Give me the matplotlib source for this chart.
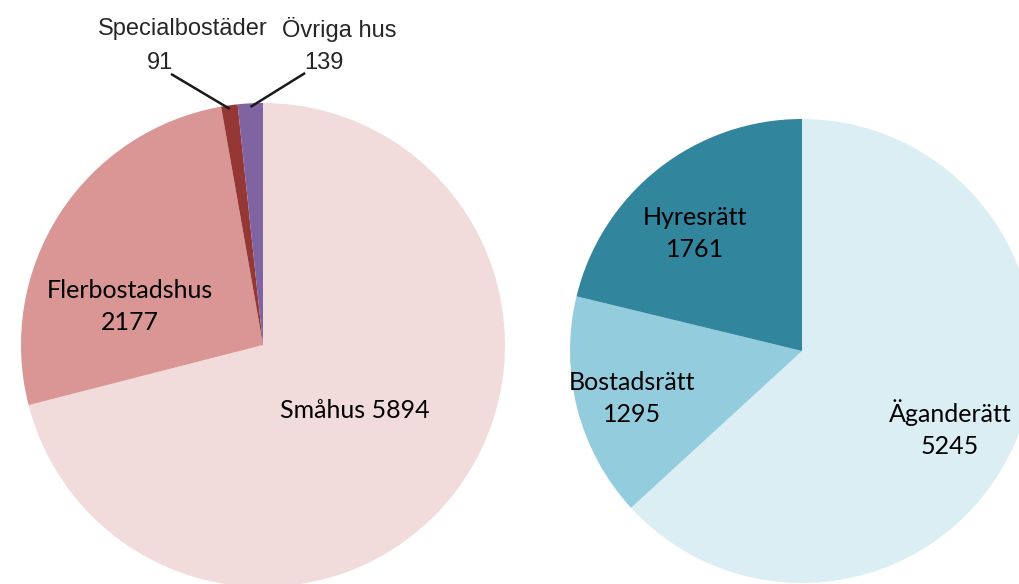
import numpy as np
import matplotlib
matplotlib.use("Agg")
import matplotlib.pyplot as plt

# Data
hus_labels = ["Småhus", "Flerbostadshus", "Specialbostäder", "Övriga hus"]
hus_values = [5894, 2177, 91, 139]
hus_colors = ["#F2DCDB", "#D99694", "#953735", "#8064A2"]

upl_labels = ["Äganderätt", "Bostadsrätt", "Hyresrätt"]
upl_values = [5245, 1295, 1761]
upl_colors = ["#DBEEF4", "#93CDDD", "#31859C"]

W, H = 1019, 584
fig = plt.figure(figsize=(W / 100, H / 100), dpi=100)

inner_font = ["Lato", "DejaVu Sans"]
outer_font = ["Liberation Sans", "DejaVu Sans"]


def make_ax(cx, cy_top, r):
    cy = H - cy_top
    ax = fig.add_axes([(cx - r) / W, (cy - r) / H, 2 * r / W, 2 * r / H])
    return ax


def finish(ax):
    ax.set_xlim(-1, 1)
    ax.set_ylim(-1, 1)
    ax.set_aspect("equal")
    ax.axis("off")


# Left pie
axL = make_ax(263, 345, 242)
wedgesL, _ = axL.pie(hus_values, colors=hus_colors, startangle=90, counterclock=False,
                     radius=1, wedgeprops=dict(linewidth=0), normalize=True)
finish(axL)
for w in wedgesL:
    w.set_clip_on(False)

axL.text(-0.55, 0.16, f"{hus_labels[1]}\n{hus_values[1]}", ha="center", va="center",
         fontsize=18, family=inner_font, color="black", linespacing=1.45)
axL.text(0.38, -0.269, f"{hus_labels[0]} {hus_values[0]}", ha="center", va="center",
         fontsize=18, family=inner_font, color="black")

# outside labels with leader lines
outer = [(2, (-0.33, 1.305), (-0.426, 1.165), (-0.380, 1.120)),
         (3, (0.314, 1.305), (0.252, 1.165), (0.174, 1.124))]
for idx, name_pos, val_pos, line_start in outer:
    w = wedgesL[idx]
    mid = np.deg2rad((w.theta1 + w.theta2) / 2)
    tip = (np.cos(mid) * 0.985, np.sin(mid) * 0.985)
    axL.text(*name_pos, hus_labels[idx], ha="center", va="center", fontsize=17,
             family=outer_font, color="#262626", clip_on=False)
    axL.text(*val_pos, str(hus_values[idx]), ha="center", va="center", fontsize=17,
             family=outer_font, color="#262626", clip_on=False)
    axL.plot([line_start[0], tip[0]], [line_start[1], tip[1]], color="#1a1a1a",
             lw=1.8, clip_on=False, solid_capstyle="butt")

# Right pie
axR = make_ax(802, 351, 232)
wedgesR, _ = axR.pie(upl_values, colors=upl_colors, startangle=90, counterclock=False,
                     radius=1, wedgeprops=dict(linewidth=0), normalize=True)
finish(axR)
for w in wedgesR:
    w.set_clip_on(False)

right_pos = [(0.638, -0.335), (-0.733, -0.205), (-0.461, 0.506)]
for lab, val, pos in zip(upl_labels, upl_values, right_pos):
    axR.text(*pos, f"{lab}\n{val}", ha="center", va="center", fontsize=18,
             family=inner_font, color="black", linespacing=1.45)

fig.savefig("out.png", dpi=100)
